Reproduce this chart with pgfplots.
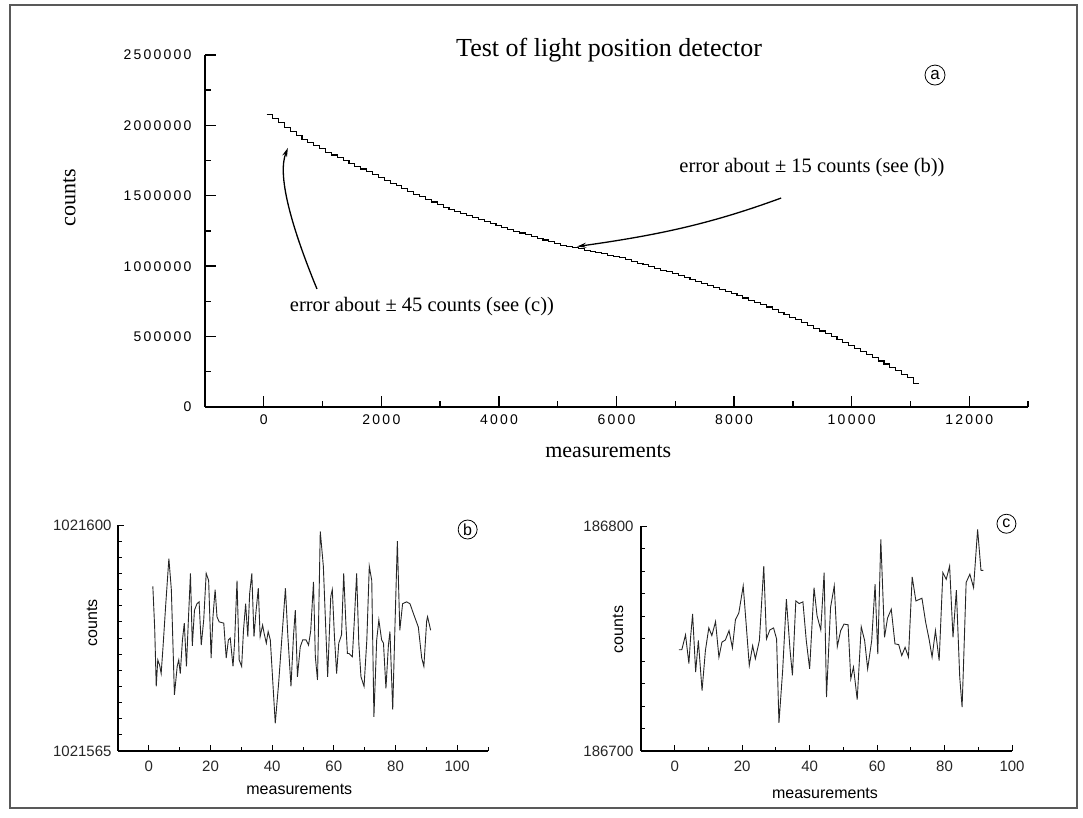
\documentclass[border=0pt]{standalone}
\usepackage{fontspec}
\setmainfont{Liberation Serif}
\setsansfont{Liberation Sans}
\newfontfamily\spacedsans[LetterSpace=16]{Liberation Sans}
\usepackage{pgfplots}
\pgfplotsset{compat=1.18}
\usetikzlibrary{arrows.meta}

\pgfplotstableread{
x y
50 2080000
150 2049000
250 2018000
350 1987000
450 1956000
550 1925000
650 1902000
750 1879000
850 1856000
950 1833000
1050 1810000
1150 1790000
1250 1770000
1350 1750000
1450 1730000
1550 1710000
1650 1690000
1750 1670000
1850 1650000
1950 1630000
2050 1610000
2150 1590000
2250 1570000
2350 1550000
2450 1530000
2550 1510000
2650 1492000
2750 1474000
2850 1456000
2950 1438000
3050 1420000
3150 1405000
3250 1390000
3350 1375000
3450 1360000
3550 1345000
3650 1331000
3750 1317000
3850 1303000
3950 1289000
4050 1275000
4150 1262000
4250 1249000
4350 1236000
4450 1223000
4550 1210000
4650 1198000
4750 1186000
4850 1174000
4950 1162000
5050 1150000
5150 1141000
5250 1132000
5350 1123000
5450 1114000
5550 1105000
5650 1096000
5750 1087000
5850 1078000
5950 1069000
6050 1060000
6150 1047000
6250 1035000
6350 1022000
6450 1010000
6550 997000
6650 985000
6750 972000
6850 960000
6950 947000
7050 935000
7150 921000
7250 907000
7350 893000
7450 879000
7550 865000
7650 850000
7750 835000
7850 820000
7950 805000
8050 790000
8150 774000
8250 758000
8350 742000
8450 726000
8550 710000
8650 692000
8750 674000
8850 656000
8950 638000
9050 620000
9150 600000
9250 580000
9350 560000
9450 540000
9550 520000
9650 499000
9750 478000
9850 457000
9950 436000
10050 415000
10150 393000
10250 371000
10350 349000
10450 327000
10550 305000
10650 281000
10750 257000
10850 233000
10950 209000
11050 170000
11150 170000
}\dataA

% panel (b): d = counts - 1021565
\pgfplotstableread{
x d
1.3 25.5
1.9 19.0
2.4 10.0
2.9 14.1
3.5 13.3
4.0 12.0
4.6 16.1
5.5 22.8
6.5 29.8
7.3 25.0
8.3 8.7
9.2 13.1
9.7 14.1
10.2 12.0
10.9 17.2
11.5 19.8
12.2 13.1
12.8 20.0
13.5 27.5
14.1 16.3
14.8 21.8
15.6 22.8
16.3 23.1
17.0 16.4
17.8 20.3
18.6 27.5
19.4 26.4
20.2 14.4
20.8 20.8
21.5 25.0
22.1 20.8
22.8 20.0
24.3 19.8
25.1 14.4
25.8 17.2
26.4 17.5
27.3 13.1
27.8 16.7
28.6 26.4
29.3 14.1
30.1 13.1
30.7 18.7
31.4 22.8
32.1 17.7
32.7 24.4
33.4 27.5
34.1 17.7
34.7 21.3
35.5 25.2
36.1 17.7
36.9 19.5
37.4 18.2
38.1 16.7
38.7 18.5
39.4 17.2
41.0 4.3
42.1 10.5
43.1 17.2
44.3 25.2
45.1 17.7
46.1 10.0
46.9 17.7
47.5 21.8
48.2 11.5
49.1 16.1
49.9 17.2
51.0 17.2
51.8 16.4
52.5 18.6
53.4 26.2
54.0 14.6
54.7 11.0
55.6 34.0
56.6 28.6
57.4 18.7
58.0 11.5
59.0 23.9
59.5 25.0
60.2 17.7
60.9 12.0
61.6 16.7
62.5 18.0
63.2 27.5
63.9 19.8
64.4 15.1
64.9 15.1
66.0 14.6
66.6 19.8
67.4 27.5
68.1 16.7
68.8 11.5
69.8 10.0
70.7 17.2
71.5 28.6
72.3 26.4
73.0 5.3
73.9 17.2
74.6 20.3
75.5 17.2
76.1 16.7
76.9 9.7
77.7 16.4
78.2 18.5
79.1 6.4
79.7 17.2
80.6 32.5
81.4 18.7
82.3 22.8
83.6 23.1
84.7 22.8
85.8 21.3
87.4 19.2
88.5 14.4
89.2 13.1
90.1 20.1
90.4 20.8
91.4 18.7
}\dataB

% panel (c): d = counts - 186700
\pgfplotstableread{
x d
1.2 45.0
2.1 45.0
3.2 51.6
4.2 38.8
4.7 50.5
5.3 60.9
6.2 35.1
7.0 49.1
8.1 26.9
9.1 44.7
10.1 54.7
11.0 51.3
12.1 57.5
13.1 41.7
14.0 48.4
15.0 49.3
16.1 53.5
17.1 45.8
18.0 58.4
19.0 61.3
20.3 73.4
21.1 57.9
22.1 38.0
23.1 46.8
23.9 41.0
25.1 49.1
26.4 82.2
27.2 49.8
28.2 53.8
29.3 54.7
30.2 49.8
30.9 12.5
32.0 35.8
33.1 67.5
34.2 44.7
34.9 33.6
35.9 66.7
36.9 65.5
38.0 66.3
39.0 49.1
40.0 36.5
41.3 72.6
42.2 60.1
43.3 53.8
44.3 79.3
45.0 24.0
46.2 63.8
47.3 73.4
48.2 46.4
49.2 53.5
50.2 56.4
51.4 56.1
52.2 32.1
53.0 37.3
54.1 22.8
55.3 55.2
56.3 49.1
57.2 36.5
58.4 49.1
59.4 74.1
60.2 43.1
61.1 94.0
62.2 50.5
63.1 59.1
64.2 63.0
65.3 47.6
66.4 47.3
67.3 42.4
68.3 46.1
69.3 41.7
70.4 77.4
71.5 66.7
73.3 67.9
74.4 57.2
75.4 49.8
76.3 41.7
77.3 53.5
78.4 40.2
79.5 79.3
80.5 76.3
81.5 82.2
82.5 50.5
83.5 71.5
84.5 32.8
85.2 19.5
85.6 37.3
86.4 74.9
87.5 78.6
88.6 72.6
89.8 98.5
90.8 80.3
91.5 80.3
}\dataC

\begin{document}
\begin{tikzpicture}
\useasboundingbox (0pt,0pt) rectangle (1083pt,818pt);
\draw[line width=1.2pt, black!65] (10pt,813pt) rectangle (1077pt,10pt);

% ---------------- panel (a)
\begin{axis}[
  at={(205pt,411pt)}, anchor=south west, scale only axis,
  width=823pt, height=352pt,
  xmin=-1000, xmax=13000, ymin=0, ymax=2500000,
  axis x line=bottom, axis y line=left,
  axis line style={-, line width=1.6pt},
  tick align=inside, tick style={black, line width=1.4pt},
  major tick length=11pt, minor tick length=6pt,
  xtick={0,2000,...,12000}, minor xtick={1000,3000,...,13000},
  ytick={0,500000,...,2500000}, minor ytick={250000,750000,...,2250000},
  scaled ticks=false,
  /pgf/number format/.cd, fixed, precision=0, 1000 sep={}, assume math mode=true,
  /pgfplots/.cd,
  tick label style={font=\spacedsans\fontsize{14}{14}\selectfont, black},
  xticklabel style={yshift=-4pt},
  yticklabel style={xshift=-10pt},
  xlabel={measurements}, ylabel={counts},
  label style={font=\fontsize{22}{22}\selectfont},
  xlabel style={at={(axis description cs:0.49,-0.125)}, anchor=center},
  ylabel style={at={(axis description cs:-0.165,0.594)}, anchor=center},
  clip=false,
]
\addplot[const plot, black, line width=1.1pt] table[x=x,y=y] {\dataA};
\draw[-{Stealth[length=9pt,width=5pt]}, line width=1.3pt]
  (axis cs:8800,1484000) .. controls (axis cs:7600,1300000) and (axis cs:6700,1220000) .. (axis cs:5330,1140000);
\draw[-{Stealth[length=9pt,width=5pt]}, line width=1.3pt]
  (axis cs:905,838000) .. controls (axis cs:450,1300000) and (axis cs:230,1650000) .. (axis cs:410,1840000);
\node[font=\fontsize{20.5}{20.5}\selectfont] at (axis cs:9325,1697000) {error about ± 15 counts (see (b))};
\node[font=\fontsize{20.5}{20.5}\selectfont] at (axis cs:2690,710000) {error about ± 45 counts (see (c))};
\node[font=\fontsize{26}{26}\selectfont] at (axis description cs:0.491,1.013) {Test of light position detector};
\node[circle, draw, line width=0.8pt, inner sep=1.5pt, minimum size=20pt, font=\sffamily\fontsize{17}{17}\selectfont]
  at (axis description cs:0.887,0.943) {a};
\end{axis}

% ---------------- panel (b)
\begin{axis}[
  at={(118pt,67pt)}, anchor=south west, scale only axis,
  width=370pt, height=226pt,
  xmin=-10, xmax=110, ymin=0, ymax=35,
  axis x line=bottom, axis y line=left,
  axis line style={-, line width=1.1pt},
  tick align=inside, tick style={black, line width=0.9pt},
  major tick length=6pt, minor tick length=4pt,
  xtick={0,20,...,100}, minor xtick={10,30,...,110},
  ytick={0,35}, yticklabels={1021565,1021600},
  minor ytick={2.5,5,...,32.5},
  tick label style={font=\sffamily\fontsize{15}{15}\selectfont, black!85},
  xticklabel style={/pgf/number format/assume math mode=true, yshift=-6pt},
  yticklabel style={xshift=-3pt},
  xlabel={measurements}, ylabel={counts},
  label style={font=\sffamily\fontsize{16}{16}\selectfont},
  xlabel style={at={(axis description cs:0.49,-0.168)}, anchor=center},
  ylabel style={at={(axis description cs:-0.07,0.566)}, anchor=center},
  clip=false,
]
\addplot[black!85, line width=0.9pt] table[x=x,y=d] {\dataB};
\node[circle, draw, line width=0.8pt, inner sep=1pt, minimum size=19pt, font=\sffamily\fontsize{16}{16}\selectfont]
  at (axis description cs:0.945,0.98) {b};
\end{axis}

% ---------------- panel (c)
\begin{axis}[
  at={(641pt,67pt)}, anchor=south west, scale only axis,
  width=371pt, height=225pt,
  xmin=-10, xmax=100, ymin=0, ymax=100,
  axis x line=bottom, axis y line=left,
  axis line style={-, line width=1.1pt},
  tick align=inside, tick style={black, line width=0.9pt},
  major tick length=6pt, minor tick length=4pt,
  xtick={0,20,...,100}, minor xtick={10,30,...,90},
  ytick={0,100}, yticklabels={186700,186800},
  minor ytick={10,20,...,90},
  tick label style={font=\sffamily\fontsize{15}{15}\selectfont, black!85},
  xticklabel style={/pgf/number format/assume math mode=true, yshift=-6pt},
  yticklabel style={xshift=-4pt},
  xlabel={measurements}, ylabel={counts},
  label style={font=\sffamily\fontsize{16}{16}\selectfont},
  xlabel style={at={(axis description cs:0.496,-0.19)}, anchor=center},
  ylabel style={at={(axis description cs:-0.062,0.54)}, anchor=center},
  clip=false,
]
\addplot[black!85, line width=0.9pt] table[x=x,y=d] {\dataC};
\node[circle, draw, line width=0.8pt, inner sep=1pt, minimum size=19pt, font=\sffamily\fontsize{16}{16}\selectfont]
  at (axis description cs:0.985,1.01) {c};
\end{axis}
\end{tikzpicture}
\end{document}
